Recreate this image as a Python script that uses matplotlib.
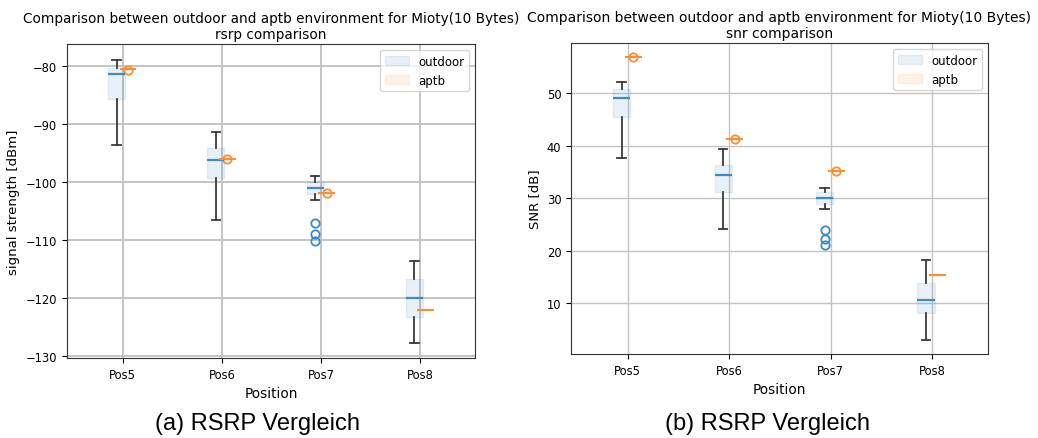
import matplotlib.pyplot as plt
from matplotlib.patches import Patch

positions = ["Pos5", "Pos6", "Pos7", "Pos8"]

# rsrp, outdoor (box stats)
rsrp_out_lo = [-93.6, -106.6, -103.2, -127.7]
rsrp_out_q1 = [-85.8, -99.4, -102.1, -123.3]
rsrp_out_med = [-81.5, -96.3, -101.1, -120.0]
rsrp_out_q3 = [-80.4, -94.1, -100.1, -116.7]
rsrp_out_hi = [-79.0, -91.4, -99.0, -113.6]
rsrp_out_fl = [[], [], [-107.0, -108.9, -110.1], []]
# rsrp, aptb
rsrp_apt = [-80.6, -96.0, -102.0, -122.0]
rsrp_apt_fl = [[-80.7], [-96.0], [-102.0], []]

# snr, outdoor
snr_out_lo = [37.6, 24.1, 27.9, 3.0]
snr_out_q1 = [45.4, 31.1, 29.0, 8.1]
snr_out_med = [49.1, 34.5, 30.0, 10.7]
snr_out_q3 = [50.8, 36.4, 31.1, 13.9]
snr_out_hi = [52.0, 39.3, 32.0, 18.3]
snr_out_fl = [[], [], [24.0, 22.2, 21.1], []]
# snr, aptb
snr_apt = [56.8, 41.3, 35.2, 15.5]
snr_apt_fl = [[56.8], [41.3], [35.2], []]


def stats(lo, q1, med, q3, hi, fl):
    return [dict(whislo=a, q1=b, med=c, q3=d, whishi=e, fliers=f)
            for a, b, c, d, e, f in zip(lo, q1, med, q3, hi, fl)]


def draw(ax, out, apt, apt_fl, gridlw):
    x = range(1, len(positions) + 1)
    ax.bxp(stats(*out), positions=[i - 0.06 for i in x], widths=0.17,
           patch_artist=True,
           boxprops=dict(facecolor="C0", edgecolor="C0", alpha=0.1),
           medianprops=dict(color="#3b8bc8", lw=1.6),
           whiskerprops=dict(color="#3a3a3a", lw=1.3),
           capprops=dict(color="#3a3a3a", lw=1.3),
           flierprops=dict(marker="o", markeredgecolor="#3b8bc8",
                           markerfacecolor="none", markersize=6,
                           markeredgewidth=1.3))
    ax.bxp(stats(apt, apt, apt, apt, apt, apt_fl),
           positions=[i + 0.055 for i in x], widths=0.17,
           patch_artist=True, showcaps=False,
           boxprops=dict(facecolor="C1", edgecolor="C1", alpha=0.1),
           medianprops=dict(color="#ff8c2e", lw=1.5),
           whiskerprops=dict(color="#ff8c2e", lw=1),
           flierprops=dict(marker="o", markeredgecolor="#ff8c2e",
                           markerfacecolor="none", markersize=6,
                           markeredgewidth=1.3))
    ax.set_xticks(list(x))
    ax.set_xticklabels(positions, fontsize=8.3)
    ax.tick_params(axis="y", labelsize=8.3)
    ax.set_xlim(0.44, 4.55)
    ax.grid(True, color="#c4c4c4", lw=gridlw)
    ax.set_axisbelow(True)
    for s in ax.spines.values():
        s.set_color("#333333")
    ax.set_xlabel("Position", fontsize=9.8)
    ax.legend(handles=[Patch(facecolor="C0", edgecolor="C0", alpha=0.1, label="outdoor"),
                       Patch(facecolor="C1", edgecolor="C1", alpha=0.1, label="aptb")],
              loc="upper right", fontsize=8.5)


fig = plt.figure(figsize=(10.38, 4.39), dpi=100)
ax1 = fig.add_axes([0.0645, 0.1822, 0.3931, 0.7153])
ax2 = fig.add_axes([0.5501, 0.1913, 0.4017, 0.7085])

draw(ax1, (rsrp_out_lo, rsrp_out_q1, rsrp_out_med, rsrp_out_q3, rsrp_out_hi, rsrp_out_fl),
     rsrp_apt, rsrp_apt_fl, 1.4)
ax1.set_ylim(-130.3, -76.3)
ax1.set_yticks([-130, -120, -110, -100, -90, -80])
ax1.set_ylabel("signal strength [dBm]", fontsize=9.5)
ax1.set_title("Comparison between outdoor and aptb environment for Mioty(10 Bytes)\nrsrp comparison",
              fontsize=9.8, pad=4)

draw(ax2, (snr_out_lo, snr_out_q1, snr_out_med, snr_out_q3, snr_out_hi, snr_out_fl),
     snr_apt, snr_apt_fl, 1.0)
ax2.set_ylim(0.4, 59.5)
ax2.set_yticks([10, 20, 30, 40, 50])
ax2.set_ylabel("SNR [dB]", fontsize=9.5)
ax2.set_title("Comparison between outdoor and aptb environment for Mioty(10 Bytes)\nsnr comparison",
              fontsize=10, pad=4)

fig.text(0.2485, 0.02, "(a) RSRP Vergleich", ha="center", fontsize=17,
         family="Liberation Sans")
fig.text(0.739, 0.02, "(b) RSRP Vergleich", ha="center", fontsize=17,
         family="Liberation Sans")

fig.savefig("out.png", dpi=100)
